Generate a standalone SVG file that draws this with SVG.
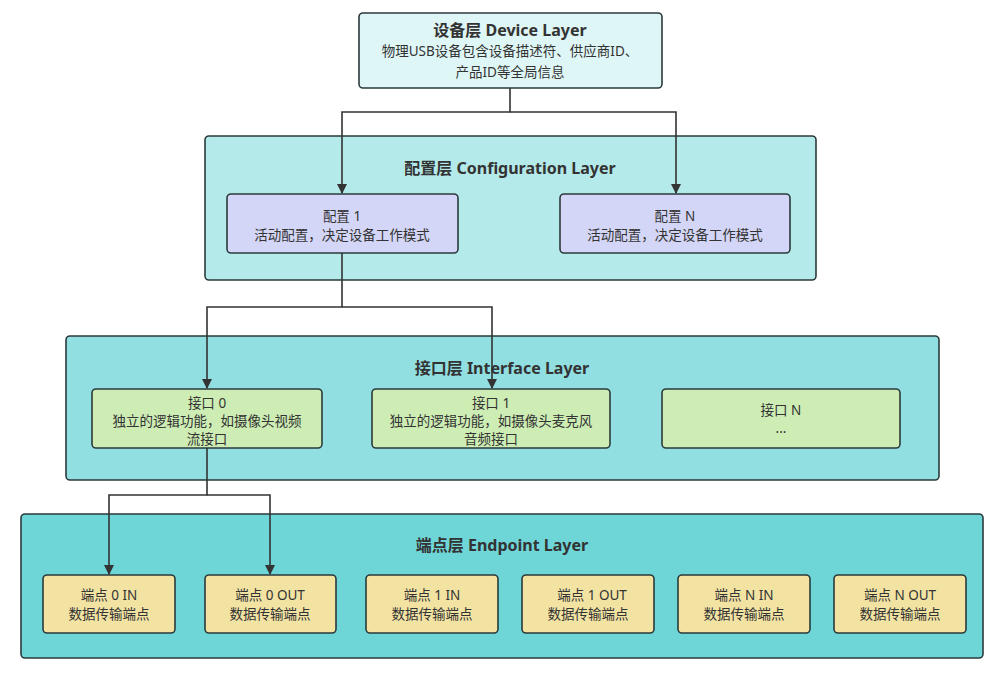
<svg xmlns="http://www.w3.org/2000/svg" width="1001" height="674" viewBox="0 0 1001 674">
<style>
text{font-family:"Noto Sans","Noto Sans CJK SC",sans-serif;fill:#333;text-anchor:middle}
.t{font-size:16px;font-weight:bold}
.b{font-size:13.5px}
.box{stroke:#2b3a3c;stroke-width:1.6}
.layer{stroke:#2b3a3c;stroke-width:1.6}
.n-cfg{fill:#d3d6f6}
.n-if{fill:#cdedb4}
.n-ep{fill:#f2e3a3}
.edge{fill:none;stroke:#333;stroke-width:1.6}
</style>
<defs>
<marker id="arr" viewBox="0 0 10 10" refX="9" refY="5" markerWidth="10" markerHeight="10" markerUnits="userSpaceOnUse" orient="auto">
<path d="M0,0 L10,5 L0,10 z" fill="#333"/>
</marker>
</defs>
<rect width="1001" height="674" fill="#ffffff"/>

<g id="layer-config">
<rect class="layer" x="205" y="136" width="611" height="144" rx="4" fill="#b5eaea"/>
<text class="t" x="510" y="174">配置层 Configuration Layer</text>
</g>
<g id="layer-interface">
<rect class="layer" x="66" y="336" width="873" height="144" rx="4" fill="#92dfe2"/>
<text class="t" x="502" y="374">接口层 Interface Layer</text>
</g>
<g id="layer-endpoint">
<rect class="layer" x="21" y="514" width="962" height="144" rx="4" fill="#6fd6d8"/>
<text class="t" x="502" y="551">端点层 Endpoint Layer</text>
</g>

<g id="device">
<rect class="box" x="359" y="13" width="303" height="75" rx="4" fill="#dff6f6"/>
<text class="t" x="510" y="36">设备层 Device Layer</text>
<text class="b" x="510" y="56">物理USB设备包含设备描述符、供应商ID、</text>
<text class="b" x="510" y="77">产品ID等全局信息</text>
</g>

<g id="config1">
<rect class="box n-cfg" x="227" y="194" width="231" height="59" rx="4"/>
<text class="b" x="342" y="221">配置 1</text>
<text class="b" x="342" y="240">活动配置，决定设备工作模式</text>
</g>
<g id="configN">
<rect class="box n-cfg" x="560" y="194" width="230" height="59" rx="4"/>
<text class="b" x="675" y="221">配置 N</text>
<text class="b" x="675" y="240">活动配置，决定设备工作模式</text>
</g>

<g id="if0">
<rect class="box n-if" x="92" y="389" width="230" height="59" rx="4"/>
<text class="b" x="207" y="408">接口 0</text>
<text class="b" x="207" y="426">独立的逻辑功能，如摄像头视频</text>
<text class="b" x="207" y="444">流接口</text>
</g>
<g id="if1">
<rect class="box n-if" x="372" y="389" width="238" height="59" rx="4"/>
<text class="b" x="491" y="408">接口 1</text>
<text class="b" x="491" y="426">独立的逻辑功能，如摄像头麦克风</text>
<text class="b" x="491" y="444">音频接口</text>
</g>
<g id="ifN">
<rect class="box n-if" x="662" y="389" width="238" height="59" rx="4"/>
<text class="b" x="781" y="415">接口 N</text>
<text class="b" x="781" y="433">...</text>
</g>

<g id="ep0in">
<rect class="box n-ep" x="43" y="575" width="132" height="58" rx="4"/>
<text class="b" x="109" y="600">端点 0 IN</text>
<text class="b" x="109" y="619">数据传输端点</text>
</g>
<g id="ep0out">
<rect class="box n-ep" x="205" y="575" width="131" height="58" rx="4"/>
<text class="b" x="270" y="600">端点 0 OUT</text>
<text class="b" x="270" y="619">数据传输端点</text>
</g>
<g id="ep1in">
<rect class="box n-ep" x="366" y="575" width="132" height="58" rx="4"/>
<text class="b" x="432" y="600">端点 1 IN</text>
<text class="b" x="432" y="619">数据传输端点</text>
</g>
<g id="ep1out">
<rect class="box n-ep" x="522" y="575" width="132" height="58" rx="4"/>
<text class="b" x="592" y="600">端点 1 OUT</text>
<text class="b" x="588" y="619">数据传输端点</text>
</g>
<g id="epNin">
<rect class="box n-ep" x="678" y="575" width="132" height="58" rx="4"/>
<text class="b" x="744" y="600">端点 N IN</text>
<text class="b" x="744" y="619">数据传输端点</text>
</g>
<g id="epNout">
<rect class="box n-ep" x="834" y="575" width="132" height="58" rx="4"/>
<text class="b" x="900" y="600">端点 N OUT</text>
<text class="b" x="900" y="619">数据传输端点</text>
</g>

<g id="connectors">
<path class="edge" d="M510,88 V112 H342 V193" marker-end="url(#arr)"/>
<path class="edge" d="M510,112 H676 V193" marker-end="url(#arr)"/>
<path class="edge" d="M342,253 V307 H207 V388" marker-end="url(#arr)"/>
<path class="edge" d="M342,307 H492 V388" marker-end="url(#arr)"/>
<path class="edge" d="M207,448 V495 H109 V574" marker-end="url(#arr)"/>
<path class="edge" d="M207,495 H270 V574" marker-end="url(#arr)"/>
</g>
</svg>
